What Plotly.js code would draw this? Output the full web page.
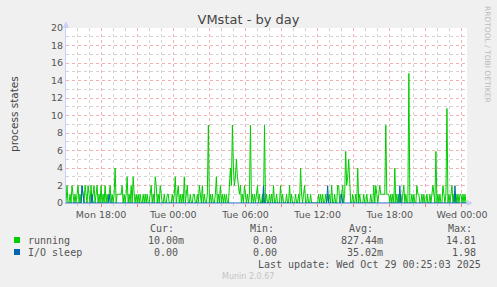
<!DOCTYPE html>
<html><head><meta charset="utf-8">
<script src="https://cdn.plot.ly/plotly-3.0.1.min.js"></script>
<style>html,body{margin:0;padding:0;background:#F0F0F0;}#chart{width:497px;height:287px;}</style>
</head><body><div id="chart"></div>
<script>
// ---- data ----
const startUTC = Date.UTC(2025, 9, 27, 15, 5, 0);   // Mon 27 Oct 15:05
const stepMinutes = 5;
const rangeStart = '2025-10-27 15:05:00';
const rangeEnd = '2025-10-29 00:25:00';

const running = [
  0,2,0,0,1,0,2,1,0,1,
  0,1,2,0,1,0,2,1,0,2,
  1,0,2,1,0,2,0,1,2,0,
  1,2,0,1,0,2,0,1,0,2,
  0,1,0,1,2,0,1,0,1,4,
  0,1,1,1,1,1,2,0,1,0,
  1,3,0,1,0,2,0,3,1,0,
  1,0,1,0,1,0,0,1,0,1,
  0,1,0,0,1,2,0,1,0,3,
  2,0,1,0,2,1,0,0,1,0,
  0,1,1,0,0,0,1,0,1,3,
  0,1,2,0,1,0,1,0,3,0,
  1,2,0,0,1,0,0,1,1,0,
  0,1,0,2,1,0,2,0,1,0,
  0,1,8.9,0,1,0,1,0,0,1,
  3,0,1,0,2,0,1,0,1,0,
  1,0,0,2,4,2,8.9,4,2,3,
  5,3,2,1,2,0,1,0,2,1,
  0,1,0,1,8.9,0,1,0,1,0,
  1,2,0,1,0,0,1,0,8.9,0,
  1,0,0,1,0,1,0,2,0,0,
  1,0,0,0,2,0,1,0,0,0,
  1,0,0,2,0,1,0,0,0,1,
  0,0,1,0,4,1,0,1,2,0,
  0,1,0,0,1,0,0,0,0,0,
  0,0,1,0,1,0,1,0,0,1,
  0,1,0,1,0,2,0,0,1,0,
  0,2,2,0,1,1,2,0,1,5.9,
  2,3,5,1,0,0,1,0,0,1,
  0,4,0,1,0,0,0,1,0,0,
  1,0,0,0,1,0,0,2,0,2,
  1,0,1,2,1,1,1,1,1,8.9,
  1,1,1,0,1,0,1,0,4,0,
  1,0,1,0,1,0,1,2,0,1,
  0,0,14.81,0,0,1,0,1,0,0,
  2,1,1,0,0,1,0,1,0,0,
  1,0,0,1,0,1,2,1,0,5.9,
  0,1,0,1,0,0,2,1,0,1,
  10.8,0,1,0,1,2,0,1,0,1,
  0,1,0,1,1,0,1,0,1,0
];
const ioIndex = [16, 17, 26, 43, 197, 261, 275, 333, 388];
const ioValue = [1.98, 1, 1, 1, 1.98, 1.98, 1, 1.98, 1.98];

const tickVals = ['2025-10-27 18:00','2025-10-27 21:00','2025-10-28 00:00','2025-10-28 03:00',
  '2025-10-28 06:00','2025-10-28 09:00','2025-10-28 12:00','2025-10-28 15:00',
  '2025-10-28 18:00','2025-10-28 21:00','2025-10-29 00:00'];
const tickText = ['Mon 18:00','','Tue 00:00','','Tue 06:00','','Tue 12:00','','Tue 18:00','','Wed 00:00'];

const seriesNames = ['running', 'I/O sleep'];
const seriesColors = ['#00CC00', '#0066B3'];
const statHeaders = ['Cur:', 'Min:', 'Avg:', 'Max:'];
const statCur = ['10.00m', '0.00'];
const statMin = ['0.00', '0.00'];
const statAvg = ['827.44m', '35.02m'];
const statMax = ['14.81', '1.98'];
const lastUpdate = 'Last update: Wed Oct 29 00:25:03 2025';

// ---- build ----
const times = running.map((_, i) =>
  new Date(startUTC + i * stepMinutes * 60000).toISOString().slice(0, 19).replace('T', ' '));
const ioSleep = running.map(() => 0);
ioIndex.forEach((idx, k) => { ioSleep[idx] = ioValue[k]; });

const L = 66, R = 30, T = 28, B = 84, W = 497, H = 287;
const PW = W - L - R, PH = H - T - B;
const px = x => (x - L) / PW;
const py = y => (T + PH - y) / PH;

const mono = {family: 'DejaVu Sans Mono', size: 10, color: '#555555'};
const annotations = [];
function txt(x, y, text, xanchor, font, extra) {
  annotations.push(Object.assign({xref: 'paper', yref: 'paper', x: px(x), y: py(y), text: text,
    showarrow: false, xanchor: xanchor, yanchor: 'middle', font: font, borderpad: 0}, extra || {}));
}
const headerLeft = [149, 249, 348, 447];
statHeaders.forEach((h, i) => txt(headerLeft[i], 228, h, 'left', mono));
const colRight = [185, 284, 384, 483];
const cols = [statCur, statMin, statAvg, statMax];
const rowY = [240, 252];
const shapes = [];
seriesNames.forEach((n, r) => {
  txt(27, rowY[r], n, 'left', mono);
  shapes.push({type: 'rect', xref: 'paper', yref: 'paper', x0: px(14), x1: px(20),
    y0: py(rowY[r] + 3), y1: py(rowY[r] - 3), fillcolor: seriesColors[r], line: {width: 0}});
  cols.forEach((c, ci) => {
    const v = c[r];
    const shift = /[a-zA-Z]$/.test(v) ? 0 : 6;
    txt(colRight[ci] - shift, rowY[r], v, 'right', mono);
  });
});
txt(482, 264, lastUpdate, 'right', mono);
txt(248, 276, 'Munin 2.0.67', 'center', {family: 'DejaVu Sans', size: 8, color: '#C4C4C4'});
txt(488, 54, 'RRDTOOL / TOBI OETIKER', 'center', {family: 'DejaVu Sans', size: 7.5, color: '#BBBBBB'}, {textangle: 90});
txt(14, 114, 'process states', 'center', {family: 'DejaVu Sans', size: 10.5, color: '#444444'}, {textangle: -90});

// axis arrows
shapes.push({type: 'path', xref: 'paper', yref: 'paper',
  path: `M ${px(467)} ${py(200)} L ${px(473)} ${py(203)} L ${px(467)} ${py(206)} Z`,
  fillcolor: '#C8D0F8', line: {width: 0}});
shapes.push({type: 'path', xref: 'paper', yref: 'paper',
  path: `M ${px(63)} ${py(28)} L ${px(66)} ${py(21)} L ${px(69)} ${py(28)} Z`,
  fillcolor: '#C8D0F8', line: {width: 0}});

const traces = [
  {x: times, y: running, type: 'scatter', mode: 'lines', name: seriesNames[0],
   line: {color: seriesColors[0], width: 1}},
  {x: times, y: ioSleep, type: 'scatter', mode: 'lines', name: seriesNames[1],
   line: {color: seriesColors[1], width: 1}}
];

const layout = {
  width: W, height: H,
  margin: {l: L, r: R, t: T, b: B},
  paper_bgcolor: '#F0F0F0', plot_bgcolor: '#FFFFFF',
  showlegend: false,
  font: {family: 'DejaVu Sans', color: '#555555'},
  title: {text: 'VMstat - by day', xref: 'container', x: 0.5, xanchor: 'center',
    yref: 'container', y: 1 - 19 / H, yanchor: 'middle',
    font: {family: 'DejaVu Sans', size: 13, color: '#444444'}},
  xaxis: {type: 'date', range: [rangeStart, rangeEnd], tickmode: 'array',
    tickvals: tickVals, ticktext: tickText,
    showgrid: true, gridcolor: '#F2B0B0', griddash: 'dot', gridwidth: 1,
    ticks: 'outside', ticklen: 3, tickcolor: '#F08080',
    tickfont: {family: 'DejaVu Sans', size: 9.5, color: '#555555'},
    showline: true, linecolor: '#A8B0E8', linewidth: 1, zeroline: false,
    minor: {tickmode: 'linear', tick0: '2025-10-27 16:00', dtick: 3600000,
      showgrid: true, gridcolor: '#D4D4D4', griddash: 'dot', gridwidth: 1,
      ticks: 'outside', ticklen: 2, tickcolor: '#C8C8C8'},
    fixedrange: true},
  yaxis: {range: [0, 20], tickmode: 'linear', tick0: 0, dtick: 2,
    showgrid: true, gridcolor: '#F2B0B0', griddash: 'dot', gridwidth: 1,
    ticks: '', tickfont: {family: 'DejaVu Sans', size: 9.5, color: '#555555'},
    showline: true, linecolor: '#C8D0F8', linewidth: 1, zeroline: false,
    minor: {tickmode: 'linear', tick0: 0, dtick: 1, showgrid: true,
      gridcolor: '#D4D4D4', griddash: 'dot', gridwidth: 1},
    fixedrange: true},
  annotations: annotations,
  shapes: shapes
};

Plotly.newPlot('chart', traces, layout, {staticPlot: true, displayModeBar: false});
</script>
</body></html>
